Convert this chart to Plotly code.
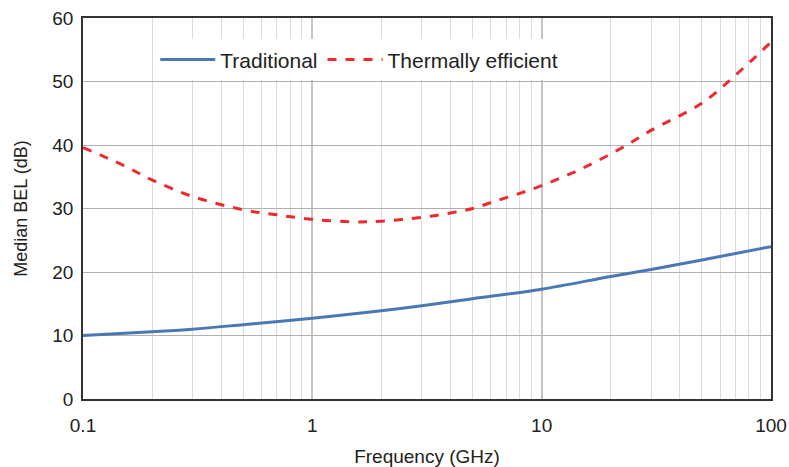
import plotly.graph_objects as go

freq_trad = [0.1, 0.2, 0.3, 0.5, 1, 2, 3, 5, 10, 20, 30, 50, 100]
bel_trad = [10.0, 10.6, 11.0, 11.7, 12.7, 13.9, 14.7, 15.8, 17.3, 19.3, 20.4, 21.9, 24.0]

freq_therm = [0.1, 0.15, 0.2, 0.3, 0.5, 0.7, 1, 1.5, 2, 3, 4, 5, 6.2, 7.9, 10, 15, 23, 30, 50, 70, 100]
bel_therm = [39.6, 36.8, 34.5, 31.9, 29.8, 29.0, 28.3, 27.9, 28.0, 28.6, 29.3, 30.0, 31.1, 32.3, 33.6, 36.3, 39.8, 42.3, 46.6, 51.0, 56.2]

x_ticks = [0.1, 1, 10, 100]
x_ticklabels = ["0.1", "1", "10", "100"]
y_ticks = [0, 10, 20, 30, 40, 50, 60]

fig = go.Figure()
fig.add_trace(go.Scatter(x=freq_trad, y=bel_trad, mode="lines", name="Traditional",
                         line=dict(color="#4a78b5", width=3, shape="spline")))
fig.add_trace(go.Scatter(x=freq_therm, y=bel_therm, mode="lines", name="Thermally efficient",
                         line=dict(color="#ee2a2e", width=3, dash="dash", shape="spline")))

font = "Liberation Sans, Arial, sans-serif"
fig.update_layout(
    width=789, height=467,
    margin=dict(l=83, r=18, t=18, b=68, autoexpand=False),
    plot_bgcolor="white", paper_bgcolor="white",
    font=dict(family=font, size=19, color="#222"),
    legend=dict(orientation="h", x=0.105, y=0.89, xanchor="left", yanchor="middle",
                bgcolor="white", font=dict(size=21), traceorder="normal", itemwidth=55),
    xaxis=dict(type="log", range=[-1, 2], tickvals=x_ticks, ticktext=x_ticklabels,
               showgrid=True, gridcolor="#c4c4c4", gridwidth=1.5,
               minor=dict(showgrid=True, gridcolor="#dadada", gridwidth=1.2, dtick="D1"),
               showline=True, linecolor="#333", linewidth=1.5, mirror=True,
               ticks="", ticklen=0, zeroline=False, automargin=False, ticklabelstandoff=8,
               tickfont=dict(size=19),
               title=dict(text="Frequency (GHz)", font=dict(size=19), standoff=18)),
    yaxis=dict(range=[0, 60], tickvals=y_ticks, showgrid=True, gridcolor="#b0b0b0", gridwidth=1.2,
               showline=True, linecolor="#333", linewidth=1.5, mirror=True,
               ticks="", zeroline=False, automargin=False, ticklabelstandoff=4,
               tickfont=dict(size=19),
               title=dict(text="Median BEL (dB)", font=dict(size=18), standoff=20)),
)
fig.write_html("out.html")
